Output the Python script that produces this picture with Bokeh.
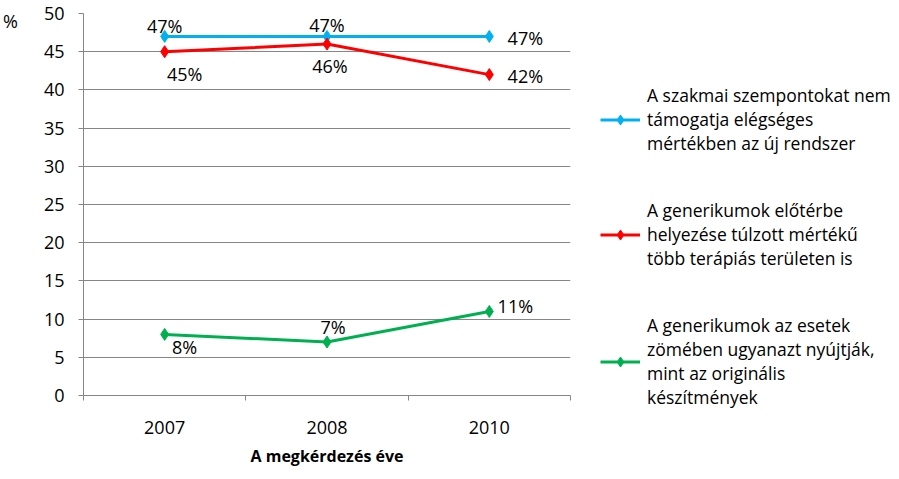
from bokeh.plotting import figure
from bokeh.layouts import row
from bokeh.models import ColumnDataSource, Range1d, FixedTicker, Legend, LegendItem, Label
from bokeh.core.properties import value
from bokeh.embed import file_html
from bokeh.resources import INLINE

# ---- data ----
years = ["2007", "2008", "2010"]
series_names = [
    "A szakmai szempontokat nem\ntámogatja elégséges\nmértékben az új rendszer",
    "A generikumok előtérbe\nhelyezése túlzott mértékű\ntöbb terápiás területen is",
    "A generikumok az esetek\nzömében ugyanazt nyújtják,\nmint az originális\nkészítmények",
]
vals_blue = [47, 47, 47]
vals_red = [45, 46, 42]
vals_green = [8, 7, 11]
y_ticks = [0, 5, 10, 15, 20, 25, 30, 35, 40, 45, 50]
x_title = "A megkérdezés éve"
y_title = "%"

# ---- styles ----
FONT = "Open Sans"
colors = ["#00B0F0", "#FF0000", "#00B050"]
label_dx = [[0, 0, 36], [20, 3, 36], [20, 6, 26]]
label_dy = [[-10, -11, 2], [22, 22, 1], [13, -15, -5]]
GRAY = "#868686"
H = 470


def blank(width):
    f = figure(width=width, height=H, x_range=Range1d(0, 1), y_range=Range1d(0, 1),
               x_axis_type=None, y_axis_type=None, output_backend="svg",
               toolbar_location=None, min_border=0)
    f.outline_line_color = None
    f.background_fill_color = "white"
    f.border_fill_color = "white"
    try:
        f.frame_align = False
    except Exception:
        pass
    return f


# left strip with the y-axis title
p0 = blank(30)
p0.add_layout(Label(x=10, y=H - 20, x_units="screen", y_units="screen", text=y_title,
                    text_align="center", text_baseline="middle",
                    text_font=FONT, text_font_size="18px", text_color="black"))

# main chart
xs = [i + 0.5 for i in range(len(years))]
p = figure(width=550, height=H, x_range=Range1d(0, len(years)), y_range=Range1d(0, 50),
           output_backend="svg", toolbar_location=None,
           min_border_left=53, min_border_right=10, min_border_top=13, min_border_bottom=75)
p.outline_line_color = None
p.background_fill_color = "white"
p.border_fill_color = "white"
p.xgrid.visible = False
p.ygrid.grid_line_color = GRAY
p.ygrid.ticker = FixedTicker(ticks=y_ticks)

ya = p.yaxis[0]
ya.ticker = FixedTicker(ticks=y_ticks)
ya.axis_line_color = GRAY
ya.major_tick_line_color = GRAY
ya.major_tick_out = 5
ya.major_tick_in = 0
ya.minor_tick_line_color = None
ya.major_label_standoff = 14
ya.major_label_text_font = FONT
ya.major_label_text_font_size = "18px"
ya.major_label_text_color = "black"

xa = p.xaxis[0]
xa.ticker = FixedTicker(ticks=xs, minor_ticks=list(range(len(years) + 1)))
xa.major_label_overrides = {x: y for x, y in zip(xs, years)}
xa.axis_line_color = GRAY
xa.major_tick_line_color = None
xa.major_tick_out = 0
xa.major_tick_in = 0
xa.minor_tick_line_color = GRAY
xa.minor_tick_out = 5
xa.minor_tick_in = 0
xa.major_label_standoff = 20
xa.major_label_text_font = FONT
xa.major_label_text_font_size = "18px"
xa.major_label_text_color = "black"
xa.axis_label = x_title
xa.axis_label_text_font = FONT
xa.axis_label_text_font_style = "bold"
xa.axis_label_text_font_size = "16px"
xa.axis_label_text_color = "black"
xa.axis_label_standoff = 8

# legend strip
p2 = blank(310)
items = []
for k, vals in enumerate([vals_blue, vals_red, vals_green]):
    src = ColumnDataSource(dict(x=xs, y=vals, t=[f"{v}%" for v in vals],
                                dx=label_dx[k], dy=label_dy[k]))
    p.line("x", "y", source=src, line_color=colors[k], line_width=3)
    p.scatter("x", "y", source=src, marker="diamond", size=12,
              fill_color=colors[k], line_color=colors[k])
    p.text("x", "y", text="t", source=src, x_offset="dx", y_offset="dy",
           text_align="center", text_baseline="middle",
           text_font=value(FONT), text_font_size="18px", text_color="black")
    # legend sample glyphs in the legend strip (same data, outside its range)
    lr = p2.line("x", "y", source=src, line_color=colors[k], line_width=3)
    sr = p2.scatter("x", "y", source=src, marker="diamond", size=9,
                    fill_color=colors[k], line_color=colors[k])
    items.append(LegendItem(label=series_names[k], renderers=[lr, sr]))

legend = Legend(items=items, location=(20, 61), padding=0, margin=0,
                spacing=43, glyph_width=40, glyph_height=25, label_standoff=7,
                label_text_font=FONT, label_text_font_size="17.5px",
                label_text_baseline="top", label_text_color="black",
                border_line_color=None, background_fill_alpha=0)
p2.add_layout(legend)

layout = row(p0, p, p2, spacing=0)
open("out.html", "w").write(file_html(layout, INLINE))
